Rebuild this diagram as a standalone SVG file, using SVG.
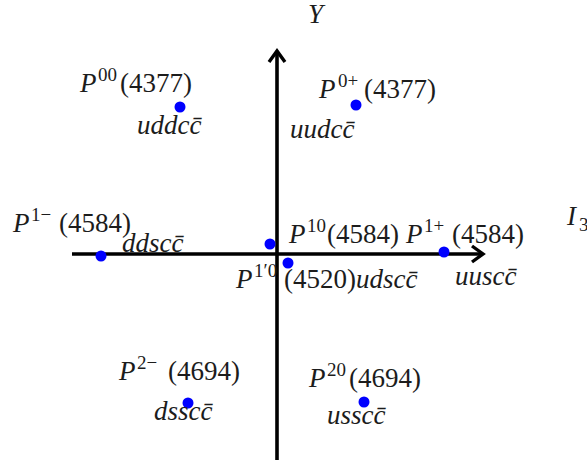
<svg xmlns="http://www.w3.org/2000/svg" width="587" height="463" viewBox="0 0 587 463">
<style>
text{font-family:"Liberation Serif","DejaVu Serif",serif;font-size:27px;fill:#1c1c1c}
.i{font-style:italic}
.s{font-size:19px}
.dot{fill:#0000ff}
.ax{stroke:#000;stroke-width:3.6;fill:none}
</style>
<defs>
<marker id="arr" markerUnits="userSpaceOnUse" markerWidth="30" markerHeight="30" refX="0" refY="0" viewBox="-15 -15 30 30" orient="auto" overflow="visible">
<path d="M-11,-8 L0,0 L-11,8" fill="none" stroke="#000" stroke-width="3.4" stroke-linejoin="miter"/>
</marker>
</defs>
<rect width="587" height="463" fill="#fff"/>
<g id="connectors">
<line class="ax" x1="277" y1="460" x2="277" y2="51" marker-end="url(#arr)"/>
<line class="ax" x1="72" y1="254" x2="483" y2="254" marker-end="url(#arr)"/>
</g>
<g id="axis-labels">
<text class="i" x="308" y="23">Y</text>
<text class="i" x="567" y="225">I</text><text class="s" x="579" y="231">3</text>
</g>
<g id="P00">
<text class="i" x="80" y="92">P</text><text class="s" x="98" y="81">00</text><text x="120" y="92">(4377)</text>
<circle class="dot" cx="180" cy="107" r="5.5"/>
<text class="i" x="137" y="134">uddcc̄</text>
</g>
<g id="P0p">
<text class="i" x="319" y="98">P</text><text class="s" x="338" y="87">0+</text><text x="364" y="98">(4377)</text>
<circle class="dot" cx="356" cy="105" r="5.5"/>
<text class="i" x="290" y="138">uudcc̄</text>
</g>
<g id="P1m">
<text class="i" x="13" y="232">P</text><text class="s" x="31" y="221">1−</text><text x="59" y="232">(4584)</text>
<circle class="dot" cx="101" cy="256" r="5.5"/>
<text class="i" x="122" y="252">ddscc̄</text>
</g>
<g id="P10">
<text class="i" x="289" y="243">P</text><text class="s" x="307" y="232">10</text><text x="327" y="243">(4584)</text>
<circle class="dot" cx="270" cy="244" r="5.5"/>
</g>
<g id="P1p0">
<text class="i" x="236" y="288">P</text><text class="s" x="254" y="277">1′0</text>
<circle class="dot" cx="288" cy="263" r="5.5"/>
<text x="284" y="288">(4520)<tspan class="i">udscc̄</tspan></text>
</g>
<g id="P1p">
<text class="i" x="406" y="243">P</text><text class="s" x="424" y="232">1+</text><text x="452" y="243">(4584)</text>
<circle class="dot" cx="444" cy="252" r="5.5"/>
<text class="i" x="455" y="285">uuscc̄</text>
</g>
<g id="P2m">
<text class="i" x="119" y="380">P</text><text class="s" x="137" y="369">2−</text><text x="168" y="380">(4694)</text>
<circle class="dot" cx="188" cy="403" r="5.5"/>
<text class="i" x="154" y="420">dsscc̄</text>
</g>
<g id="P20">
<text class="i" x="309" y="387">P</text><text class="s" x="327" y="376">20</text><text x="349" y="387">(4694)</text>
<circle class="dot" cx="364" cy="402" r="5.5"/>
<text class="i" x="327" y="424">usscc̄</text>
</g>
</svg>
